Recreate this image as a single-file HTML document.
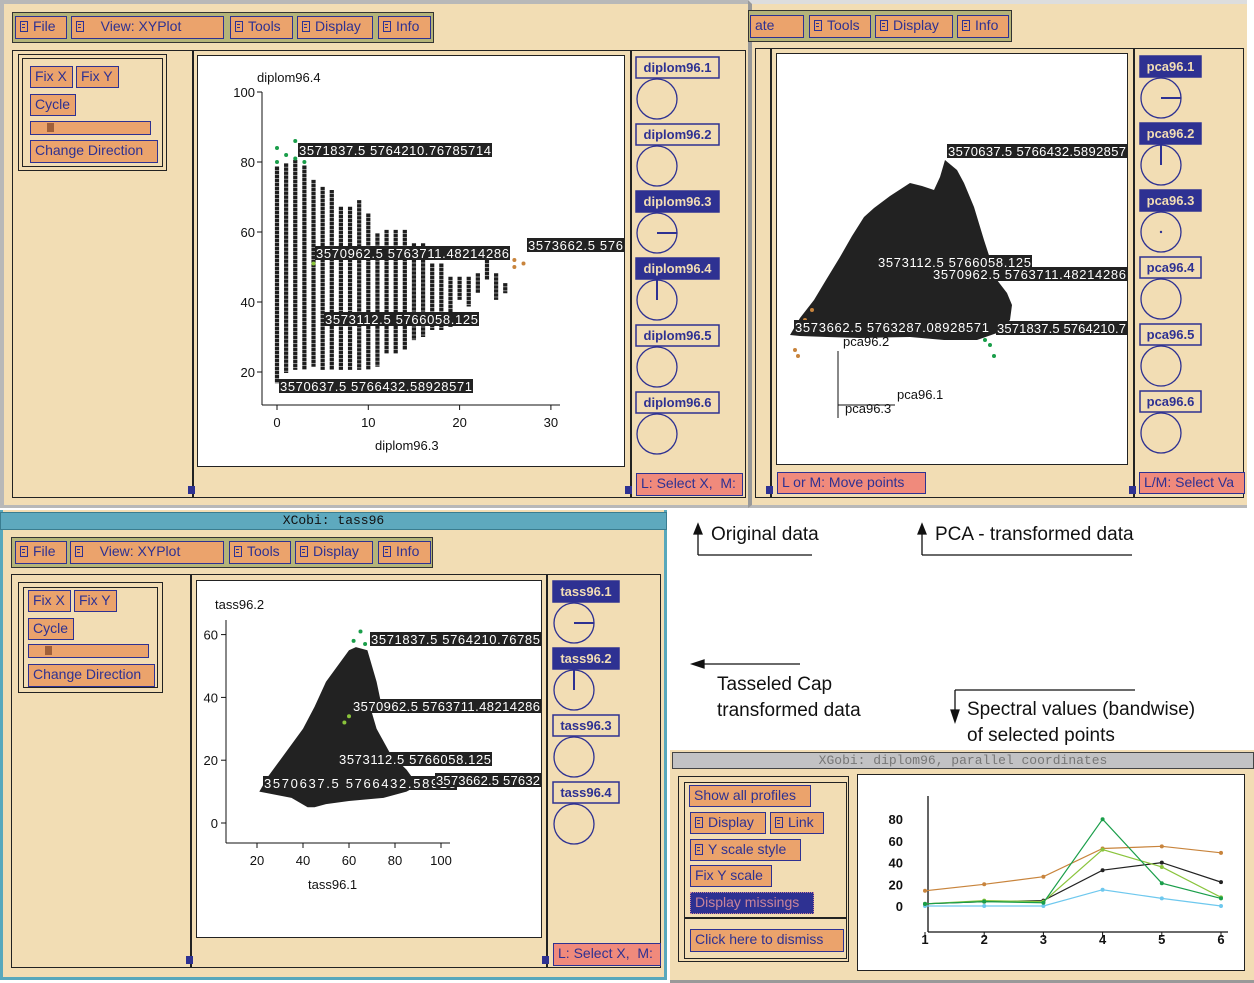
<!DOCTYPE html>
<html><head><meta charset="utf-8">
<style>
*{box-sizing:border-box;margin:0;padding:0}
body{width:1254px;height:983px;position:relative;background:#fff;font-family:"Liberation Sans",sans-serif;overflow:hidden}
.a{position:absolute}
.win{position:absolute;background:#f2ddb4}
.menu{position:absolute;background:#b4b478;border:1px solid #333}
.btn{position:absolute;background:#eba36c;border:1.5px solid #2e3192;color:#2e3192;font-size:14px;line-height:18px;padding-left:4px;white-space:nowrap;overflow:hidden}
.btn.f{background:#2e3192;color:#f2ddb4;border-color:#2e3192}
.frame{position:absolute;border:1.5px solid #222}
.vl{position:absolute;background:#222;width:1.5px}
.plot{position:absolute;background:#fff;border:1.5px solid #222}
.sq{position:absolute;width:7px;height:8px;background:#2e3192}
.stat{position:absolute;background:#f08a7c;border:1.5px solid #2e3192;color:#2e3192;font-size:14px;line-height:18px;padding-left:4px;white-space:nowrap;overflow:hidden}
.note{position:absolute;font-size:19px;color:#111;white-space:nowrap}
svg text{font-family:"Liberation Sans",sans-serif}
.ic{display:inline-block;width:8px;height:11px;border:1.5px solid #2e3192;margin-right:5px;vertical-align:-1px;background:linear-gradient(#2e3192,#2e3192) 1px 2px/3px 1px no-repeat,linear-gradient(#2e3192,#2e3192) 1px 5px/3px 1px no-repeat}
.f .ic{border-color:#f2ddb4}
</style></head><body>

<!-- Window 1: top-left -->
<div class="win" style="left:0;top:0;width:748px;height:508px;border-top:4px solid #b8b8b8;border-left:4px solid #b8b8b8;border-bottom:3px solid #b8b8b8"></div>
<div class="menu" style="left:12px;top:12px;width:422px;height:31px"></div>
<div class="btn" style="left:15px;top:16px;width:52px;height:23px"><span class="ic"></span>File</div>
<div class="btn" style="left:71px;top:16px;width:153px;height:23px"><span class="ic"></span>&nbsp;&nbsp;&nbsp;View: XYPlot</div>
<div class="btn" style="left:230px;top:16px;width:63px;height:23px"><span class="ic"></span>Tools</div>
<div class="btn" style="left:297px;top:16px;width:76px;height:23px"><span class="ic"></span>Display</div>
<div class="btn" style="left:378px;top:16px;width:53px;height:23px"><span class="ic"></span>Info</div>
<div class="frame" style="left:12px;top:50px;width:734px;height:448px"></div>
<div class="vl" style="left:192px;top:50px;height:448px"></div>
<div class="vl" style="left:630px;top:50px;height:448px"></div>
<div class="frame" style="left:18px;top:54px;width:149px;height:117px;background:#f2ddb4"></div>
<div class="frame" style="left:22px;top:58px;width:141px;height:109px"></div>
<div class="btn" style="left:30px;top:66px;width:43px;height:22px">Fix X</div>
<div class="btn" style="left:76px;top:66px;width:43px;height:22px">Fix Y</div>
<div class="btn" style="left:30px;top:94px;width:46px;height:22px">Cycle</div>
<div class="btn" style="left:30px;top:121px;width:121px;height:14px"><span class="a" style="left:16px;top:1px;width:7px;height:9px;background:#a0603a"></span></div>
<div class="btn" style="left:30px;top:140px;width:128px;height:23px">Change Direction</div>
<div class="plot" style="left:197px;top:55px;width:428px;height:412px"></div>
<div class="sq" style="left:188px;top:486px"></div>
<div class="sq" style="left:625px;top:486px"></div>
<div class="stat" style="left:636px;top:473px;width:107px;height:23px">L: Select X,&nbsp; M:</div>

<!-- Window 2: top-right -->
<div class="win" style="left:748px;top:0;width:499px;height:508px;border-top:4px solid #ddd;border-left:4px solid #999;border-bottom:3px solid #b8b8b8"></div>
<div class="menu" style="left:748px;top:10px;width:264px;height:32px"></div>
<div class="btn" style="left:750px;top:15px;width:54px;height:23px">ate</div>
<div class="btn" style="left:809px;top:15px;width:62px;height:23px"><span class="ic"></span>Tools</div>
<div class="btn" style="left:875px;top:15px;width:78px;height:23px"><span class="ic"></span>Display</div>
<div class="btn" style="left:957px;top:15px;width:52px;height:23px"><span class="ic"></span>Info</div>
<div class="frame" style="left:755px;top:48px;width:489px;height:450px"></div>
<div class="vl" style="left:770px;top:48px;height:450px"></div>
<div class="vl" style="left:1133px;top:48px;height:450px"></div>
<div class="plot" style="left:776px;top:53px;width:352px;height:412px"></div>
<div class="sq" style="left:766px;top:486px"></div>
<div class="sq" style="left:1129px;top:486px"></div>
<div class="stat" style="left:777px;top:472px;width:149px;height:22px">L or M: Move points</div>
<div class="stat" style="left:1139px;top:472px;width:106px;height:22px">L/M: Select Va</div>

<!-- Window 3: bottom-left -->
<div class="win" style="left:0;top:510px;width:667px;height:470px;border:3px solid #58a8bc;border-top:none"></div>
<div class="a" style="left:0;top:512px;width:667px;height:18px;background:#5ea9be;border:1px solid #3a7d90;font-family:'Liberation Mono',monospace;font-size:13px;line-height:16px;text-align:center;color:#111">XCobi: tass96</div>
<div class="menu" style="left:11px;top:537px;width:422px;height:31px"></div>
<div class="btn" style="left:15px;top:541px;width:52px;height:23px"><span class="ic"></span>File</div>
<div class="btn" style="left:70px;top:541px;width:154px;height:23px"><span class="ic"></span>&nbsp;&nbsp;&nbsp;View: XYPlot</div>
<div class="btn" style="left:229px;top:541px;width:62px;height:23px"><span class="ic"></span>Tools</div>
<div class="btn" style="left:295px;top:541px;width:78px;height:23px"><span class="ic"></span>Display</div>
<div class="btn" style="left:378px;top:541px;width:53px;height:23px"><span class="ic"></span>Info</div>
<div class="frame" style="left:11px;top:574px;width:650px;height:394px"></div>
<div class="vl" style="left:190px;top:574px;height:394px"></div>
<div class="vl" style="left:546px;top:574px;height:394px"></div>
<div class="frame" style="left:18px;top:582px;width:145px;height:111px;background:#f2ddb4"></div>
<div class="frame" style="left:23px;top:587px;width:135px;height:101px"></div>
<div class="btn" style="left:28px;top:590px;width:43px;height:22px">Fix X</div>
<div class="btn" style="left:74px;top:590px;width:43px;height:22px">Fix Y</div>
<div class="btn" style="left:28px;top:618px;width:46px;height:22px">Cycle</div>
<div class="btn" style="left:28px;top:644px;width:121px;height:14px"><span class="a" style="left:16px;top:1px;width:7px;height:9px;background:#a0603a"></span></div>
<div class="btn" style="left:28px;top:664px;width:127px;height:23px">Change Direction</div>
<div class="plot" style="left:196px;top:580px;width:346px;height:358px"></div>
<div class="sq" style="left:186px;top:956px"></div>
<div class="sq" style="left:542px;top:956px"></div>
<div class="stat" style="left:553px;top:943px;width:108px;height:23px">L: Select X,&nbsp; M:</div>

<!-- Window 4: parallel coords -->
<div class="win" style="left:670px;top:750px;width:584px;height:233px;border-bottom:3px solid #999"></div>
<div class="a" style="left:672px;top:752px;width:582px;height:17px;background:#c2c2c4;border:1px solid #444;font-family:'Liberation Mono',monospace;font-size:13px;line-height:15px;text-align:center;color:#777">XGobi: diplom96, parallel coordinates</div>
<div class="frame" style="left:678px;top:776px;width:171px;height:186px"></div>
<div class="frame" style="left:684px;top:782px;width:163px;height:177px"></div>
<div class="a" style="left:684px;top:917px;width:163px;height:2px;background:#222"></div>
<div class="btn" style="left:689px;top:785px;width:122px;height:22px">Show all profiles</div>
<div class="btn" style="left:690px;top:812px;width:76px;height:22px"><span class="ic"></span>Display</div>
<div class="btn" style="left:770px;top:812px;width:54px;height:22px"><span class="ic"></span>Link</div>
<div class="btn" style="left:690px;top:839px;width:111px;height:22px"><span class="ic"></span>Y scale style</div>
<div class="btn" style="left:690px;top:865px;width:82px;height:22px">Fix Y scale</div>
<div class="btn f" style="left:690px;top:892px;width:124px;height:22px;color:#c8849a;border:1px dotted #c8849a">Display missings</div>
<div class="btn" style="left:690px;top:929px;width:154px;height:23px">Click here to dismiss</div>
<div class="plot" style="left:857px;top:774px;width:388px;height:197px"></div>

<!-- annotations -->
<div class="note" style="left:711px;top:524px">Original data</div>
<div class="note" style="left:935px;top:524px">PCA - transformed data</div>
<div class="note" style="left:717px;top:672px;line-height:26px">Tasseled Cap<br>transformed data</div>
<div class="note" style="left:967px;top:697px;line-height:26px">Spectral values (bandwise)<br>of selected points</div>

<svg class="a" style="left:0;top:0" width="1254" height="983" id="svg">
<g stroke="#111" stroke-width="1.3" fill="#111">
<line x1="698" y1="555" x2="812" y2="555"/><line x1="698" y1="555" x2="698" y2="530"/><polygon points="694,534 702,534 698,524"/>
<line x1="922" y1="555" x2="1132" y2="555"/><line x1="922" y1="555" x2="922" y2="530"/><polygon points="918,534 926,534 922,524"/>
<line x1="700" y1="664" x2="800" y2="664"/><polygon points="692,664 704,660 704,668"/>
<line x1="955" y1="690" x2="1135" y2="690"/><line x1="955" y1="690" x2="955" y2="714"/><polygon points="951,710 959,710 955,722"/>
</g>
</svg>

<script>
// ---- Top-left scatter data (diplom96.3 vs diplom96.4) ----
const dipCols = [0,1,2,3,4,5,6,7,8,9,10,11,12,13,14,15,16,17,18,19,20,21,22,23,24,25];
const dipMax = [78.7,79.6,80.6,79,74.9,72.9,72,67.2,67.2,69.1,65.3,59.6,60.6,60.6,60.6,56.8,56.8,51,51,47.2,47.2,47.2,48.2,52,48.2,45.4];
const dipMin = [16.8,19.7,20.6,20.6,21.5,20.6,20.6,20.6,20.6,20.6,20.6,21.5,25.3,25.3,26.3,29.1,30,32,32,32.9,40.6,38.7,42.5,46.3,40.6,42.5];
const dipXTicks = [0,10,20,30];
const dipYTicks = [20,40,60,80,100];
// ---- PCA cloud (screen-space outline of point cloud, no axes) ----
const pcaHullX = [790,800,814,826,840,852,864,874,890,910,922,934,940,945,957,964,974,984,997,1007,1012,1010,997,977,944,910,860,827,800];
const pcaHullY = [335,318,300,280,257,236,217,208,196,183,186,190,177,160,170,183,207,240,280,293,305,320,333,340,340,337,338,337,336];
// ---- Tass cloud (tass96.1, tass96.2) ----
const tassHull1 = [21,25,30,35,40,45,50,55,60,63,68,70,72,74,70,72,78,85,90,85,75,60,50,45,42,35,28];
const tassHull2 = [10,15,20,25,30,37,45,50,55,56,55,50,45,38,35,30,22,17,12,10,8,7,6,5,5,8,9];
const tassXTicks = [20,40,60,80,100];
const tassYTicks = [0,20,40,60];
// ---- Parallel coordinates ----
const pcVars = [1,2,3,4,5,6];
const pcYTicks = [0,20,40,60,80];
const sBrown = [14,20,27,53,55,49];
const sBlack = [2,4,5,33,40,22];
const sGreen = [2,4,3,80,21,7];
const sLime = [2,5,4,52,36,8];
const sBlue = [0,0,0,15,7,0];

const NS='http://www.w3.org/2000/svg';
const svg=document.getElementById('svg');
function mk(tag,attrs,parent){const e=document.createElementNS(NS,tag);for(const k in attrs)e.setAttribute(k,attrs[k]);(parent||svg).appendChild(e);return e;}
function txt(x,y,s,size,fill,anchor,parent){const t=mk('text',{x:x,y:y,'font-size':size,fill:fill||'#111','text-anchor':anchor||'start'},parent);t.textContent=s;return t;}
function label(x,y,w,s,clipW){const g=mk('g',{});mk('rect',{x:x,y:y,width:w,height:14,fill:'#222'},g);const t=txt(x+1,y+12,s,13,'#fff','start',g);t.setAttribute('textLength',Math.min(w-2,clipW||9999));return g;}

// diplom axes
const dx=v=>277+v*9.13, dy=v=>162-(v-80)*3.5;
mk('line',{x1:262,y1:92,x2:262,y2:405,stroke:'#111'});
mk('line',{x1:262,y1:405,x2:560,y2:405,stroke:'#111'});
dipXTicks.forEach(v=>{mk('line',{x1:dx(v),y1:405,x2:dx(v),y2:410,stroke:'#111'});const t=txt(dx(v),427,String(v),13,'#111','middle');});
dipYTicks.forEach(v=>{mk('line',{x1:257,y1:dy(v),x2:262,y2:dy(v),stroke:'#111'});const t=txt(255,dy(v)+5,String(v),13,'#111','end');});
txt(257,82,'diplom96.4',13);
txt(375,450,'diplom96.3',13);
dipCols.forEach((c,i)=>{const l=mk('line',{x1:dx(c),y1:dy(dipMax[i]),x2:dx(c),y2:dy(dipMin[i]),stroke:'#1e1e1e','stroke-width':4.2,'stroke-dasharray':'3.5 0.5'});});
[[0,80],[0,84],[1,82],[2,81],[2,86],[3,80]].forEach(p=>{mk('circle',{cx:dx(p[0]),cy:dy(p[1]),r:2,fill:'#1a9e4a'});});
[[26,52],[26,50],[27,51]].forEach(p=>mk('circle',{cx:dx(p[0]),cy:dy(p[1]),r:2,fill:'#c8843c'}));
mk('circle',{cx:dx(4),cy:dy(51),r:2,fill:'#8ac43c'});
label(298,143,194,'3571837.5 5764210.76785714');
label(315,246,195,'3570962.5 5763711.48214286');
label(527,238,97,'3573662.5 576',97);
label(324,312,155,'3573112.5 5766058.125');
label(279,379,194,'3570637.5 5766432.58928571');

// PCA cloud
const pts=pcaHullX.map((x,i)=>x+','+pcaHullY[i]).join(' ');
const pc=mk('polygon',{points:pts,fill:'#222'});
[[812,310],[805,320],[795,350],[798,356],[990,345],[994,356],[985,340]].forEach((p,i)=>mk('circle',{cx:p[0],cy:p[1],r:2,fill:i<4?'#c8843c':'#1a9e4a'}));
label(947,144,180,'3570637.5 5766432.5892857',180);
label(877,255,155,'3573112.5 5766058.125');
label(932,267,195,'3570962.5 5763711.48214286',195);
label(794,320,196,'3573662.5 5763287.08928571');
label(996,321,131,'3571837.5 5764210.7',131);
mk('line',{x1:838,y1:351,x2:838,y2:418,stroke:'#111'});
mk('line',{x1:838,y1:405,x2:895,y2:405,stroke:'#111'});
txt(843,346,'pca96.2',13);txt(897,399,'pca96.1',13);txt(845,413,'pca96.3',13);

// tass axes
const tx=v=>257+(v-20)*2.3, ty=v=>823-v*3.14;
mk('line',{x1:226,y1:620,x2:226,y2:843,stroke:'#111'});
mk('line',{x1:226,y1:843,x2:450,y2:843,stroke:'#111'});
tassXTicks.forEach(v=>{mk('line',{x1:tx(v),y1:843,x2:tx(v),y2:848,stroke:'#111'});const t=txt(tx(v),865,String(v),13,'#111','middle');});
tassYTicks.forEach(v=>{mk('line',{x1:221,y1:ty(v),x2:226,y2:ty(v),stroke:'#111'});const t=txt(218,ty(v)+5,String(v),13,'#111','end');});
txt(215,609,'tass96.2',13);
txt(308,889,'tass96.1',13);
const tp=mk('polygon',{points:tassHull1.map((v,i)=>tx(v)+','+ty(tassHull2[i])).join(' '),fill:'#222'});

[[62,58],[65,61],[67,57],[72,58],[60,34],[58,32]].forEach((p,i)=>mk('circle',{cx:tx(p[0]),cy:ty(p[1]),r:2,fill:i<4?'#1a9e4a':'#8ac43c'}));
mk('circle',{cx:tx(93),cy:ty(12),r:2,fill:'#c8843c'});
label(370,632,171,'3571837.5 5764210.76785',171);
label(352,699,189,'3570962.5 5763711.48214286',189);
label(338,752,154,'3573112.5 5766058.125');
label(263,776,194,'3570637.5 5766432.58928');
label(435,773,106,'3573662.5 57632',106);

// variable circle panels
function varPanel(x,y0,w,names,filled,lines,cx){
 names.forEach((n,i)=>{
  const y=y0+i*67;
  const g=mk('g',{});
  
  
  mk('rect',{x:x,y:y,width:w,height:21,fill:filled[i]?'#2e3192':'#f2ddb4',stroke:'#2e3192','stroke-width':1.5},g);
  const t=txt(x+w/2,y+15,n,13,filled[i]?'#f2ddb4':'#2e3192','middle',g);t.setAttribute('font-weight','bold');
  const cy=y+42;
  mk('circle',{cx:cx,cy:cy,r:20,fill:'none',stroke:'#2e3192','stroke-width':1.3},g);
  if(lines[i]==='h')mk('line',{x1:cx,y1:cy,x2:cx+20,y2:cy,stroke:'#2e3192','stroke-width':2},g);
  if(lines[i]==='v')mk('line',{x1:cx,y1:cy,x2:cx,y2:cy-20,stroke:'#2e3192','stroke-width':2},g);
  if(lines[i]==='d')mk('circle',{cx:cx,cy:cy,r:1.2,fill:'#2e3192'},g);
 });
}
varPanel(636,57,83,['diplom96.1','diplom96.2','diplom96.3','diplom96.4','diplom96.5','diplom96.6'],[0,0,1,1,0,0],['','','h','v','',''],657);
varPanel(1140,56,61,['pca96.1','pca96.2','pca96.3','pca96.4','pca96.5','pca96.6'],[1,1,1,0,0,0],['h','v','d','','',''],1161);
varPanel(553,581,66,['tass96.1','tass96.2','tass96.3','tass96.4'],[1,1,0,0],['h','v','',''],574);

// parallel coordinates
const px=v=>925+(v-1)*59.2, py=v=>906-v*1.085;
mk('line',{x1:928,y1:796,x2:928,y2:932,stroke:'#111','stroke-width':1.3});
mk('line',{x1:928,y1:932,x2:1228,y2:932,stroke:'#111','stroke-width':1.3});
pcVars.forEach(v=>{mk('line',{x1:px(v),y1:932,x2:px(v),y2:937,stroke:'#111'});const t=txt(px(v),944,String(v),13,'#111','middle');t.setAttribute('font-weight','bold');});
pcYTicks.forEach(v=>{const t=txt(903,py(v)+5,String(v),13,'#111','end');t.setAttribute('font-weight','bold');});
function series(vals,color,name){
 const p=mk('polyline',{points:vals.map((v,i)=>px(pcVars[i])+','+py(v)).join(' '),fill:'none',stroke:color,'stroke-width':1.2});
 
 vals.forEach((v,i)=>mk('circle',{cx:px(pcVars[i]),cy:py(v),r:2,fill:color}));
}
series(sBrown,'#c8843c','profile-brown');
series(sBlue,'#6ec8ee','profile-lightblue');
series(sBlack,'#222','profile-black');
series(sLime,'#8ac43c','profile-lime');
series(sGreen,'#1a9e4a','profile-green');
</script>
</body></html>
